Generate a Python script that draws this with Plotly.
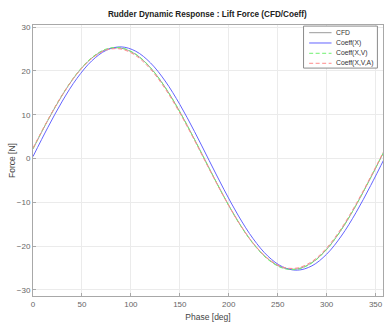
import plotly.graph_objects as go

phase = [0, 15, 30, 45, 60, 75, 90, 105, 120, 135, 150, 165, 180,
         195, 210, 225, 240, 255, 270, 285, 300, 315, 330, 345, 360]
cfd = [2.2, 8.65, 14.51, 19.38, 22.93, 24.92, 25.20, 23.77, 20.73, 16.26, 10.69, 4.39, -2.2,
       -8.65, -14.51, -19.38, -22.93, -24.92, -25.20, -23.77, -20.73, -16.26, -10.69, -4.39, 2.2]
coeff_x = [0.45, 7.03, 13.13, 18.34, 22.30, 24.74, 25.50, 24.51, 21.86, 17.71, 12.36, 6.17, -0.45,
           -7.03, -13.13, -18.34, -22.30, -24.74, -25.50, -24.51, -21.86, -17.71, -12.36, -6.17, 0.45]
coeff_xv = [2.25, 8.72, 14.60, 19.48, 23.04, 25.03, 25.30, 23.85, 20.78, 16.28, 10.68, 4.35, -2.25,
            -8.72, -14.60, -19.48, -23.04, -25.03, -25.30, -23.85, -20.78, -16.28, -10.68, -4.35, 2.25]
coeff_xva = [2.4, 8.75, 14.55, 19.35, 22.85, 24.80, 25.00, 23.52, 20.43, 15.95, 10.40, 4.15, -2.4,
             -8.75, -14.55, -19.35, -22.85, -24.80, -25.00, -23.52, -20.43, -15.95, -10.40, -4.15, 2.4]

DASH = "4px,2.5px"
series = [
    ("CFD", cfd, "#9a9a9a", "solid"),
    ("Coeff(X)", coeff_x, "#6464ff", "solid"),
    ("Coeff(X,V)", coeff_xv, "#70f070", DASH),
    ("Coeff(X,V,A)", coeff_xva, "#ff8c8c", DASH),
]

FONT = "Liberation Sans, Arial"
fig = go.Figure()
for name, ys, col, dash in series:
    fig.add_trace(go.Scatter(x=phase, y=ys, name=name, mode="lines", showlegend=False,
                             line=dict(color=col, width=1.0, dash=dash, shape="spline")))

# custom compact legend (MATLAB style)
fig.add_shape(type="rect", xref="paper", yref="paper", x0=0.773, x1=0.984, y0=0.841, y1=0.996,
              line=dict(color="#8a8a8a", width=1), fillcolor="white", layer="above")
leg_y = [0.9716, 0.9336, 0.8956, 0.8587]
for (name, ys, col, dash), yy in zip(series, leg_y):
    fig.add_shape(type="line", xref="paper", yref="paper", x0=0.789, x1=0.853, y0=yy, y1=yy,
                  line=dict(color=col, width=1.0, dash=dash), layer="above")
    fig.add_annotation(xref="paper", yref="paper", x=0.859, y=yy, text=name, showarrow=False,
                       xanchor="left", yanchor="middle",
                       font=dict(family=FONT, size=6.8, color="#333333"))

axis_common = dict(showgrid=True, gridcolor="#ebebeb", gridwidth=1,
                   showline=True, linecolor="#a8a8a8", linewidth=1, mirror=True,
                   ticks="inside", ticklen=3, tickcolor="#a8a8a8",
                   tickfont=dict(family=FONT, size=8, color="#666666"),
                   zeroline=False)

fig.add_annotation(xref="paper", yref="paper", x=-(33 - 12) / 350, y=(296 - 161) / 271,
                   text="Force [N]", textangle=-90, showarrow=False,
                   xanchor="center", yanchor="middle",
                   font=dict(family=FONT, size=8.5, color="#444444"))

fig.update_layout(
    width=384, height=329,
    margin=dict(l=33, r=1, t=25, b=33),
    paper_bgcolor="white", plot_bgcolor="white",
    title=dict(text="<b>Rudder Dynamic Response : Lift Force (CFD/Coeff)</b>",
               x=0.540, xanchor="center", y=0.957, yanchor="middle",
               font=dict(family=FONT, size=8.2, color="#222222")),
    xaxis=dict(range=[0, 357.6], tickvals=[0, 50, 100, 150, 200, 250, 300, 350],
               title=dict(text="Phase [deg]", standoff=6,
                          font=dict(family=FONT, size=8.5, color="#444444")),
               **axis_common),
    yaxis=dict(range=[-31.4, 30.5], tickvals=[-30, -20, -10, 0, 10, 20, 30],
               **axis_common),
    showlegend=False,
)

fig.write_html("out.html")
